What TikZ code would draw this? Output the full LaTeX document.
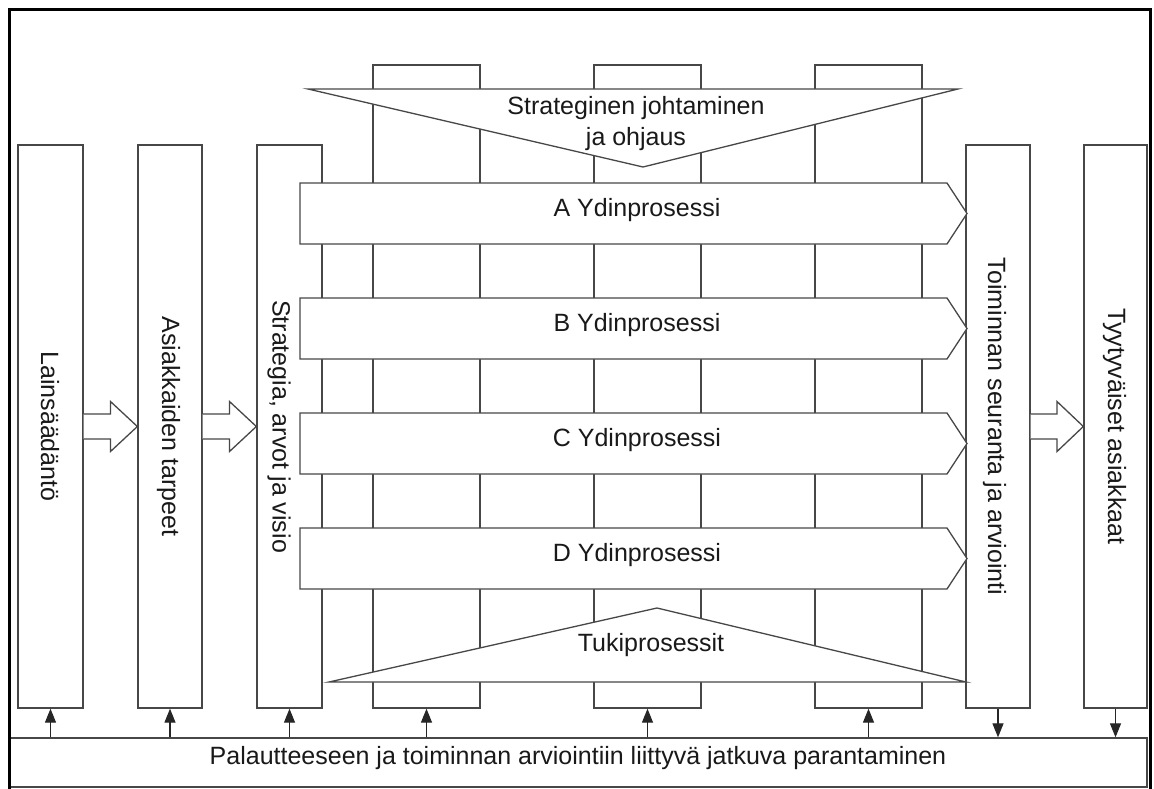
\documentclass[tikz,border=0pt]{standalone}
\usepackage{fontspec}
\setmainfont{Liberation Sans}
\usetikzlibrary{arrows.meta,calc}

% hollow block arrow between two neighbouring boxes
\newcommand\hollowarrow[2]{%
  \draw[ln] ($(#1.east)+(0,-12.5)$)
    -- ($(#1.east)!.5!(#2.west)+(0,-12.5)$)
    -- ($(#1.east)!.5!(#2.west)+(0,-25)$)
    -- (#2.west)
    -- ($(#1.east)!.5!(#2.west)+(0,25)$)
    -- ($(#1.east)!.5!(#2.west)+(0,12.5)$)
    -- ($(#1.east)+(0,12.5)$);}

% core process band with a pointed right end
\newcommand\processband[2]{%
  \draw[ln] (300,#1) -- (947,#1) -- (967,#1+30.5) -- (947,#1+61) -- (300,#1+61) -- cycle;
  \node[lbl, anchor=mid] (#2) at (637,#1+30.5) {#2 Ydinprosessi};}

\begin{document}
\begin{tikzpicture}[x=1pt,y=-1pt,
  ln/.style={draw=black!72, line width=1.3pt, fill=white, line join=miter},
  box/.style={ln, rectangle, inner sep=0pt},
  lbl/.style={font=\fontsize{25}{31}\selectfont, text=black!90, inner sep=0pt},
  vlbl/.style={lbl, rotate=-90, anchor=base},
  fb/.style={draw=black!85, line width=1.2pt, -{Triangle[length=14pt,width=11pt]}}]
\useasboundingbox (0,0) rectangle (1154,789);

% background columns
\node[box, minimum width=107, minimum height=643] (col1) at (426.5,386.5) {};
\node[box, minimum width=107, minimum height=643] (col2) at (647.5,386.5) {};
\node[box, minimum width=107, minimum height=643] (col3) at (868.5,386.5) {};

% vertical boxes
\node[box, minimum width=65, minimum height=563] (law)   at (50.5,426.5) {};
\node[box, minimum width=64, minimum height=563] (needs) at (170,426.5) {};
\node[box, minimum width=65, minimum height=563] (strat) at (289.5,426.5) {};
\node[box, minimum width=64, minimum height=563] (mon)   at (998,426.5) {};
\node[box, minimum width=63, minimum height=563] (sat)   at (1115.5,426.5) {};

% labels read top to bottom, baseline on the left
\node[vlbl] (lawt)   at ($(law.center)+(-9.5,0)$)   {Lainsäädäntö};
\node[vlbl] (needst) at ($(needs.center)+(-8,0)$)   {Asiakkaiden tarpeet};
\node[vlbl] (stratt) at ($(strat.center)+(-17,0)$)  {Strategia, arvot ja visio};
\node[vlbl] (mont)   at ($(mon.center)+(-10,0)$)    {Toiminnan seuranta ja arviointi};
\node[vlbl] (satt)   at ($(sat.center)+(-7.5,0)$)   {Tyytyväiset asiakkaat};

% management and support triangles
\draw[ln] (308,89) -- (958,89) -- (643,167) -- cycle;
\node[lbl, align=center] (mgmt) at (636,124) {Strateginen johtaminen\\ja ohjaus};
\draw[ln] (329,682) -- (966,682) -- (657,608) -- cycle;
\node[lbl, anchor=mid] (support) at (651,649) {Tukiprosessit};

% core processes
\processband{183}{A}
\processband{298}{B}
\processband{413}{C}
\processband{528}{D}

% flow between boxes
\hollowarrow{law}{needs}
\hollowarrow{needs}{strat}
\hollowarrow{mon}{sat}

% feedback bar
\node[box, minimum width=1137.5, minimum height=49] (fbbar) at (578.25,762.5) {};
\node[lbl, anchor=mid] (fbt) at (578,762) {Palautteeseen ja toiminnan arviointiin liittyvä jatkuva parantaminen};

\foreach \n in {law,needs,strat,col1,col2,col3}
  \draw[fb] (fbbar.north -| \n.south) -- (\n.south);
\foreach \n in {mon,sat}
  \draw[fb] (\n.south) -- (fbbar.north -| \n.south);

% outer frame
\draw[black, line width=3pt] (9.5,9.5) rectangle (1150,791);
\end{tikzpicture}
\end{document}
